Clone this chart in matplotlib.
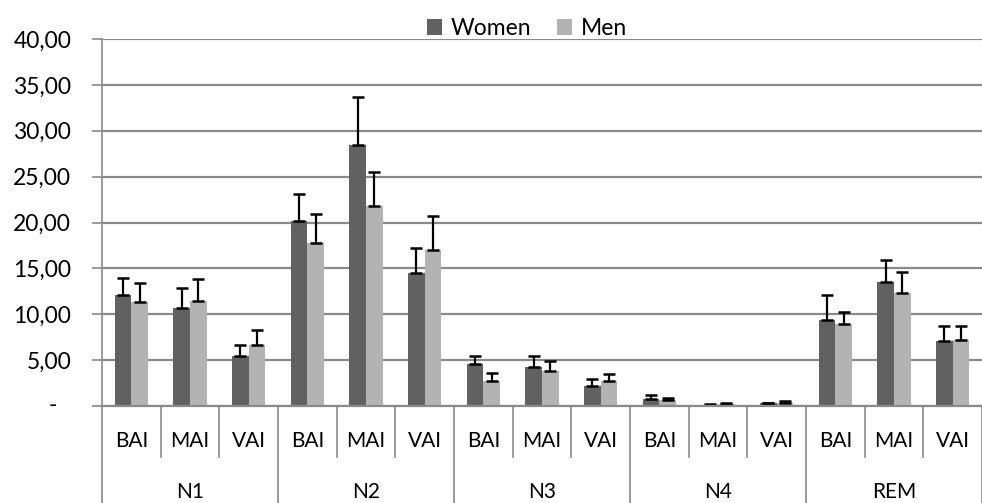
import matplotlib
matplotlib.use("Agg")
import matplotlib.pyplot as plt
import matplotlib.transforms as mtransforms
import numpy as np

# Sleep stages and arousal indices
stages = ["N1", "N2", "N3", "N4", "REM"]
indices = ["BAI", "MAI", "VAI"]

# Mean values per stage/index (stage-major order)
women = [12.1, 10.7, 5.4, 20.2, 28.4, 14.5, 4.6, 4.3, 2.2, 0.8, 0.15, 0.3, 9.4, 13.5, 7.1]
men = [11.3, 11.4, 6.7, 17.8, 21.8, 17.0, 2.7, 3.8, 2.7, 0.6, 0.2, 0.35, 8.9, 12.3, 7.2]

# Upper error (mean + SD) values
women_upper = [14.0, 12.9, 6.7, 23.1, 33.7, 17.2, 5.4, 5.5, 2.9, 1.2, 0.22, 0.36, 12.1, 15.9, 8.7]
men_upper = [13.4, 13.8, 8.3, 20.9, 25.5, 20.7, 3.6, 4.9, 3.5, 0.9, 0.3, 0.5, 10.2, 14.6, 8.7]

yticks = [0, 5, 10, 15, 20, 25, 30, 35, 40]
ytick_labels = ["-", "5,00", "10,00", "15,00", "20,00", "25,00", "30,00", "35,00", "40,00"]

plt.rcParams["font.family"] = ["Lato", "DejaVu Sans"]

women_color = "#616161"
men_color = "#b3b3b3"
grid_color = "#8a8a8a"

fig = plt.figure(figsize=(9.82, 5.03), dpi=100)
ax = fig.add_axes([102 / 982, (503 - 406) / 503, 880 / 982, (406 - 39) / 503])

n = len(women)
x = np.arange(n)
bw = 1 / 3.5

w_err = np.array(women_upper) - np.array(women)
m_err = np.array(men_upper) - np.array(men)

ax.bar(x - bw / 2, women, bw, color=women_color, label="Women", zorder=3)
ax.bar(x + bw / 2, men, bw, color=men_color, label="Men", zorder=3)
ax.errorbar(x - bw / 2, women, yerr=[np.zeros(n), w_err], fmt="none",
            ecolor="black", elinewidth=1.6, capsize=4.4, capthick=1.8, zorder=4)
ax.errorbar(x + bw / 2, men, yerr=[np.zeros(n), m_err], fmt="none",
            ecolor="black", elinewidth=1.6, capsize=4.4, capthick=1.8, zorder=4)

ax.set_xlim(-0.5, n - 0.5)
ax.set_ylim(0, 40)
ax.set_yticks(yticks)
# zero is shown as a dash placed further left, like an accounting number format
ax.set_yticklabels([""] + ytick_labels[1:], fontsize=16.5)
ax.yaxis.grid(True, color=grid_color, linewidth=1.6, zorder=0)
ax.tick_params(axis="y", length=7.2, width=1.2, color=grid_color, pad=15)
ax.text(53 / 982, (503 - 406) / 503, ytick_labels[0], transform=fig.transFigure,
        ha="center", va="center", fontsize=16.5)

for side in ["top", "right", "bottom"]:
    ax.spines[side].set_visible(False)
ax.spines["left"].set_color(grid_color)
ax.spines["left"].set_linewidth(1.2)

# Two-level category axis
ax.set_xticks([])
trans = mtransforms.blended_transform_factory(ax.transData, ax.transAxes)
ax.plot([-0.5, n - 0.5], [0, 0], transform=trans, color=grid_color,
        linewidth=1.6, clip_on=False, zorder=5)
px = 1 / 367
for i in range(n + 1):
    xb = i - 0.5
    y_end = -97 * px if i % 3 == 0 else -51 * px
    ax.plot([xb, xb], [0, y_end], transform=trans, color=grid_color,
            linewidth=1.2, clip_on=False)
for i in range(n):
    ax.text(i, -35 * px, indices[i % 3], transform=trans, ha="center",
            va="center", fontsize=15)
for g, s in enumerate(stages):
    ax.text(3 * g + 1, -86 * px, s, transform=trans, ha="center",
            va="center", fontsize=15)

leg = ax.legend(loc="upper center", bbox_to_anchor=(0.483, 1.113), ncol=2,
                frameon=False, fontsize=16.5, handlelength=0.65, handleheight=0.65,
                handletextpad=0.4, columnspacing=1.1)

fig.savefig("out.png", dpi=100)
